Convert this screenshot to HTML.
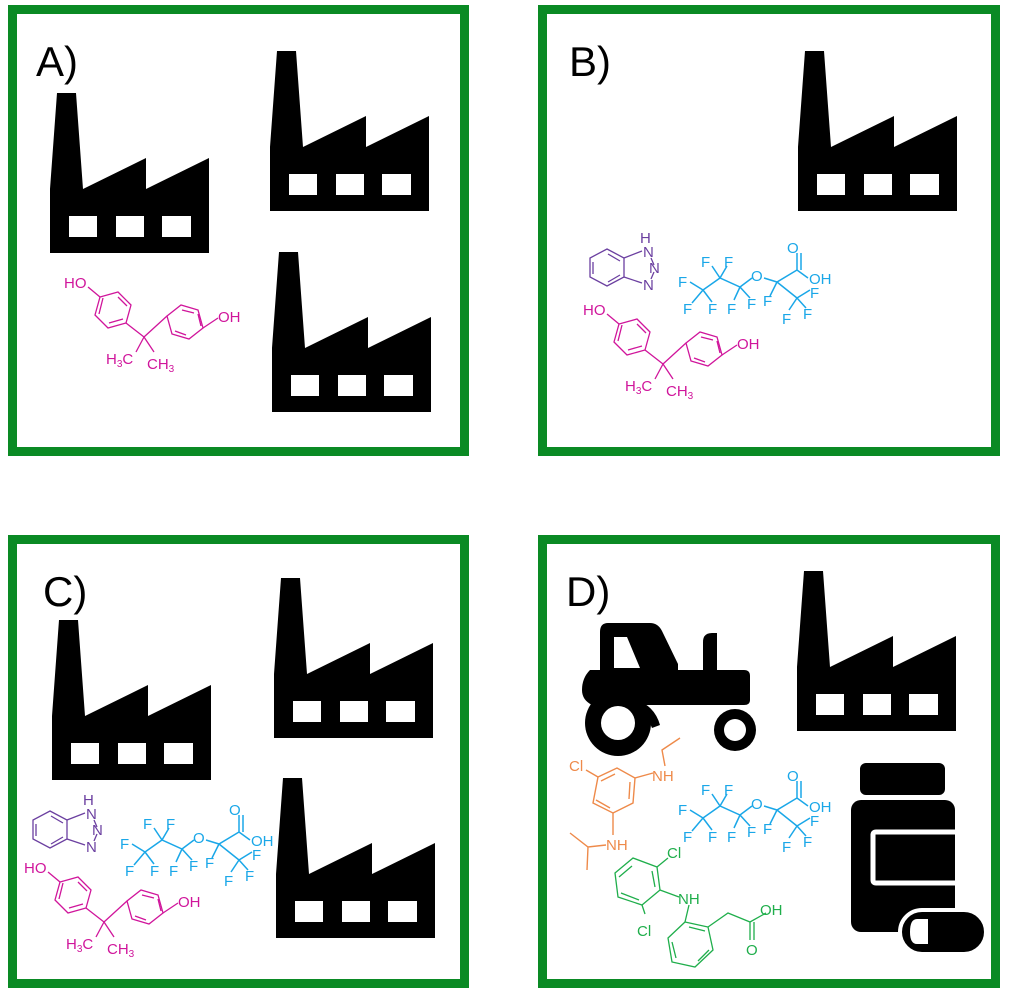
<!DOCTYPE html>
<html><head><meta charset="utf-8"><style>
html,body{margin:0;padding:0;background:#fff;}
svg{display:block;}
.lbl{font-family:"Liberation Sans",sans-serif;font-size:42px;fill:#000;}
.m text{font-family:"Liberation Sans",sans-serif;font-size:15px;}
</style></head><body>
<svg width="1009" height="997" viewBox="0 0 1009 997" xmlns="http://www.w3.org/2000/svg">
<g fill="none" stroke="#0a8a24" stroke-width="9">
<rect x="12.5" y="9.5" width="452" height="442"/>
<rect x="542.5" y="9.5" width="453" height="442"/>
<rect x="12.5" y="539.5" width="452" height="444"/>
<rect x="542.5" y="539.5" width="453" height="444"/>
</g>
<text class="lbl" x="36" y="76">A)</text>
<text class="lbl" x="569" y="76">B)</text>
<text class="lbl" x="43" y="606">C)</text>
<text class="lbl" x="566" y="606">D)</text>

<g fill="#000" fill-rule="evenodd">
<path transform="translate(50,93)" d="M7,0H26L33,96L96,65V96L159,65V160H0V96Z M19,123h28v21h-28z M66,123h28v21h-28z M112,123h29v21h-29z"/>
<path transform="translate(270,51)" d="M7,0H26L33,96L96,65V96L159,65V160H0V96Z M19,123h28v21h-28z M66,123h28v21h-28z M112,123h29v21h-29z"/>
<path transform="translate(272,252)" d="M7,0H26L33,96L96,65V96L159,65V160H0V96Z M19,123h28v21h-28z M66,123h28v21h-28z M112,123h29v21h-29z"/>
<path transform="translate(798,51)" d="M7,0H26L33,96L96,65V96L159,65V160H0V96Z M19,123h28v21h-28z M66,123h28v21h-28z M112,123h29v21h-29z"/>
<path transform="translate(52,620)" d="M7,0H26L33,96L96,65V96L159,65V160H0V96Z M19,123h28v21h-28z M66,123h28v21h-28z M112,123h29v21h-29z"/>
<path transform="translate(274,578)" d="M7,0H26L33,96L96,65V96L159,65V160H0V96Z M19,123h28v21h-28z M66,123h28v21h-28z M112,123h29v21h-29z"/>
<path transform="translate(276,778)" d="M7,0H26L33,96L96,65V96L159,65V160H0V96Z M19,123h28v21h-28z M66,123h28v21h-28z M112,123h29v21h-29z"/>
<path transform="translate(797,571)" d="M7,0H26L33,96L96,65V96L159,65V160H0V96Z M19,123h28v21h-28z M66,123h28v21h-28z M112,123h29v21h-29z"/>
</g>

<!-- tractor -->
<g fill="#000">
<path fill-rule="evenodd" d="M608,623H650Q658,623 662,631L678,664V672H600V632Q600,623 608,623Z M614,637V668H640L627,637Z"/>
<path d="M703,642Q703,633 712,633H717V670H703Z"/>
<path d="M590,670H744Q750,670 750,676V700Q750,705 744,705H592Q582,700 582,690Q582,678 590,670Z"/>
<path d="M598,700Q650,690 660,725L652,728L640,700Z"/>
<circle cx="618" cy="723" r="33"/>
<circle cx="735" cy="730" r="21"/>
</g>
<circle cx="618" cy="723" r="17" fill="#fff"/>
<circle cx="735" cy="730" r="11" fill="#fff"/>

<!-- pill bottle -->
<g fill="#000">
<rect x="860" y="763" width="85" height="32" rx="6"/>
<rect x="851" y="800" width="104" height="132" rx="10"/>
</g>
<path d="M960,832H876Q873,832 873,835V880Q873,883 876,883H960" fill="none" stroke="#fff" stroke-width="5"/>
<rect x="900" y="910" width="86" height="44" rx="22" fill="#000" stroke="#fff" stroke-width="4"/>
<path d="M928,919H917Q910,919 910,932Q910,944 917,944H928Z" fill="#fff"/>

<g class="m" stroke="#d0159b" stroke-width="1.3" fill="none">
<g>
<polygon points="118,292 131,305 126,323 108,328 95,315 100,297"/>
<path d="M118,297L127,306 M123,319L109,323 M99,314L103,298 M100,297L88,287 M126,323L144,337 M144,337L167,316 M144,337L136,352 M144,337L154,352 M203,328L218,318"/>
<polygon points="167,316 181,305 198,310 203,328 189,339 172,334"/>
<path d="M182,310L194,313 M175,331L186,335 M198,314L201,326"/>
<g fill="#d0159b" stroke="none">
<text x="64" y="288">HO</text>
<text x="218" y="322">OH</text>
<text x="106" y="364">H<tspan font-size="10" dy="3">3</tspan><tspan dy="-3">C</tspan></text>
<text x="147" y="369">CH<tspan font-size="10" dy="3">3</tspan></text>
</g>
</g>
<g transform="translate(519,27)">
<polygon points="118,292 131,305 126,323 108,328 95,315 100,297"/>
<path d="M118,297L127,306 M123,319L109,323 M99,314L103,298 M100,297L88,287 M126,323L144,337 M144,337L167,316 M144,337L136,352 M144,337L154,352 M203,328L218,318"/>
<polygon points="167,316 181,305 198,310 203,328 189,339 172,334"/>
<path d="M182,310L194,313 M175,331L186,335 M198,314L201,326"/>
<g fill="#d0159b" stroke="none">
<text x="64" y="288">HO</text><text x="218" y="322">OH</text>
<text x="106" y="364">H<tspan font-size="10" dy="3">3</tspan><tspan dy="-3">C</tspan></text>
<text x="147" y="369">CH<tspan font-size="10" dy="3">3</tspan></text>
</g>
</g>
<g transform="translate(-40,585)">
<polygon points="118,292 131,305 126,323 108,328 95,315 100,297"/>
<path d="M118,297L127,306 M123,319L109,323 M99,314L103,298 M100,297L88,287 M126,323L144,337 M144,337L167,316 M144,337L136,352 M144,337L154,352 M203,328L218,318"/>
<polygon points="167,316 181,305 198,310 203,328 189,339 172,334"/>
<path d="M182,310L194,313 M175,331L186,335 M198,314L201,326"/>
<g fill="#d0159b" stroke="none">
<text x="64" y="288">HO</text><text x="218" y="322">OH</text>
<text x="106" y="364">H<tspan font-size="10" dy="3">3</tspan><tspan dy="-3">C</tspan></text>
<text x="147" y="369">CH<tspan font-size="10" dy="3">3</tspan></text>
</g>
</g>
</g>

<g class="m" stroke="#6b3fa0" stroke-width="1.3" fill="none">
<g>
<polygon points="607,249 624,258 624,277 607,286 590,277 590,258"/>
<path d="M608,254L620,261 M620,275L608,282 M593,262V274 M624,258L642,251 M624,277L642,283 M651,258L654,265 M651,279L654,272"/>
<g fill="#6b3fa0" stroke="none"><text x="640" y="243" font-size="13">H</text><text x="643" y="257">N</text><text x="649" y="273">N</text><text x="643" y="290">N</text></g>
</g>
<g transform="translate(-557,562)">
<polygon points="607,249 624,258 624,277 607,286 590,277 590,258"/>
<path d="M608,254L620,261 M620,275L608,282 M593,262V274 M624,258L642,251 M624,277L642,283 M651,258L654,265 M651,279L654,272"/>
<g fill="#6b3fa0" stroke="none"><text x="640" y="243" font-size="13">H</text><text x="643" y="257">N</text><text x="649" y="273">N</text><text x="643" y="290">N</text></g>
</g>
</g>

<g class="m" stroke="#1aa7e8" stroke-width="1.5" fill="none">
<g>
<path d="M703,290L720,278L740,287L752,278 M764,278L777,282L797,270L808,278 M797,270L797,253 M801,270L801,253 M777,282L797,298 M703,290L690,282 M703,290L692,303 M703,290L712,302 M720,278L712,266 M720,278L727,266 M740,287L734,300 M740,287L750,298 M777,282L770,296 M797,298L810,290 M797,298L789,310 M797,298L806,308"/>
<g fill="#1aa7e8" stroke="none">
<text x="701" y="267">F</text><text x="724" y="267">F</text><text x="678" y="287">F</text>
<text x="751" y="281">O</text><text x="787" y="253">O</text><text x="809" y="284">OH</text>
<text x="683" y="314">F</text><text x="708" y="314">F</text><text x="727" y="314">F</text>
<text x="747" y="309">F</text><text x="763" y="306">F</text><text x="810" y="298">F</text>
<text x="782" y="324">F</text><text x="803" y="319">F</text>
</g>
</g>
<g transform="translate(-558,562)">
<path d="M703,290L720,278L740,287L752,278 M764,278L777,282L797,270L808,278 M797,270L797,253 M801,270L801,253 M777,282L797,298 M703,290L690,282 M703,290L692,303 M703,290L712,302 M720,278L712,266 M720,278L727,266 M740,287L734,300 M740,287L750,298 M777,282L770,296 M797,298L810,290 M797,298L789,310 M797,298L806,308"/>
<g fill="#1aa7e8" stroke="none">
<text x="701" y="267">F</text><text x="724" y="267">F</text><text x="678" y="287">F</text>
<text x="751" y="281">O</text><text x="787" y="253">O</text><text x="809" y="284">OH</text>
<text x="683" y="314">F</text><text x="708" y="314">F</text><text x="727" y="314">F</text>
<text x="747" y="309">F</text><text x="763" y="306">F</text><text x="810" y="298">F</text>
<text x="782" y="324">F</text><text x="803" y="319">F</text>
</g>
</g>
<g transform="translate(0,528)">
<path d="M703,290L720,278L740,287L752,278 M764,278L777,282L797,270L808,278 M797,270L797,253 M801,270L801,253 M777,282L797,298 M703,290L690,282 M703,290L692,303 M703,290L712,302 M720,278L712,266 M720,278L727,266 M740,287L734,300 M740,287L750,298 M777,282L770,296 M797,298L810,290 M797,298L789,310 M797,298L806,308"/>
<g fill="#1aa7e8" stroke="none">
<text x="701" y="267">F</text><text x="724" y="267">F</text><text x="678" y="287">F</text>
<text x="751" y="281">O</text><text x="787" y="253">O</text><text x="809" y="284">OH</text>
<text x="683" y="314">F</text><text x="708" y="314">F</text><text x="727" y="314">F</text>
<text x="747" y="309">F</text><text x="763" y="306">F</text><text x="810" y="298">F</text>
<text x="782" y="324">F</text><text x="803" y="319">F</text>
</g>
</g>
</g>

<g class="m" stroke="#ee8a4a" stroke-width="1.4" fill="none">
<polygon points="598,777 617,768 635,778 633,803 613,813 593,803"/>
<path d="M601,781L615,774 M630,782L629,799 M596,800L610,808 M598,777L586,770 M635,778L653,773 M665,766L662,750L680,738 M613,813L613,835 M606,845L588,847L570,833 M588,847L587,870"/>
<g fill="#ee8a4a" stroke="none">
<text x="569" y="771">Cl</text>
<text x="652" y="781">NH</text>
<text x="606" y="850">NH</text>
</g>
</g>

<g class="m" stroke="#1fae4b" stroke-width="1.3" fill="none">
<polygon points="615,873 633,858 657,867 660,890 642,905 618,897"/>
<path d="M619,877L632,866 M652,871L655,887 M621,893L639,900 M657,867L668,858 M642,905L645,914 M660,890L679,897 M689,905L685,922"/>
<polygon points="685,922 708,927 713,950 695,967 672,962 668,938"/>
<path d="M689,927L705,931 M698,961L709,950 M672,942L676,958 M708,927L728,913L750,922L766,913 M750,922L750,940 M754,922L754,940"/>
<g fill="#1fae4b" stroke="none">
<text x="667" y="858">Cl</text>
<text x="637" y="936">Cl</text>
<text x="678" y="904">NH</text>
<text x="760" y="915">OH</text>
<text x="746" y="955">O</text>
</g>
</g>
</svg>
</body></html>
